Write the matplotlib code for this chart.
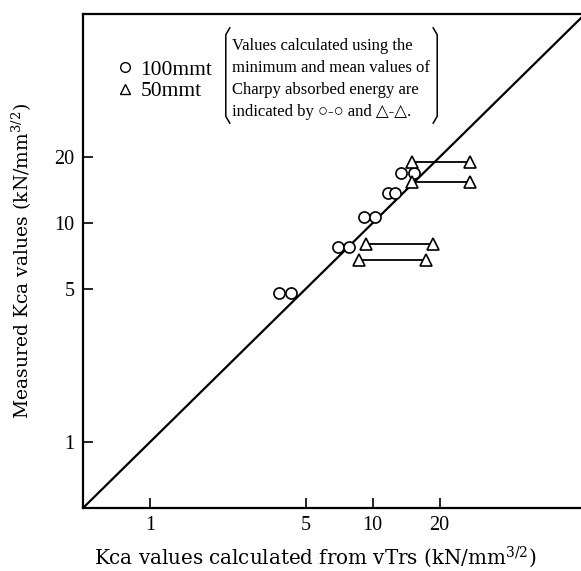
import numpy as np
import matplotlib
matplotlib.use("Agg")
import matplotlib.pyplot as plt
from matplotlib.lines import Line2D

plt.rcParams['mathtext.fontset'] = 'dejavuserif'

# 100mmt plates: Kca from minimum / mean Charpy energy, measured Kca
c100_xmin = [3.8, 7.0, 9.1, 11.7, 13.4]
c100_xmean = [4.3, 7.8, 10.2, 12.6, 15.3]
c100_y = [4.8, 7.8, 10.7, 13.7, 17.0]

# 50mmt plates
t50_xmin = [15.1, 15.0, 9.3, 8.65]
t50_xmean = [27.5, 27.3, 18.6, 17.3]
t50_y = [19.0, 15.4, 8.0, 6.8]

ticks = [1, 5, 10, 20]
diag = [0.5, 100]

fig = plt.figure(figsize=(5.81, 5.71), dpi=100)
ax = fig.add_axes([83/581, 63/571, 501/581, 494/571])
ax.set_xscale('log')
ax.set_yscale('log')
ax.set_xlim(0.5, 89)
ax.set_ylim(0.5, 90)

ax.plot(diag, diag, color='black', lw=1.6, zorder=2)

ms = 8
for x0, x1, y in zip(c100_xmin, c100_xmean, c100_y):
    ax.plot([x0, x1], [y, y], 'o', ls='none', ms=ms, mfc='white',
            mec='black', mew=1.2, zorder=3)
for x0, x1, y in zip(t50_xmin, t50_xmean, t50_y):
    ax.plot([x0, x1], [y, y], '-^', color='black', lw=1.3, ms=ms,
            mfc='white', mec='black', mew=1.2, zorder=3)

ax.set_xticks(ticks)
ax.set_xticklabels([str(t) for t in ticks])
ax.set_yticks(ticks)
ax.set_yticklabels([str(t) for t in ticks])
ax.minorticks_off()
ax.tick_params(direction='in', length=7, width=1.2, pad=6)
for lab in ax.get_xticklabels() + ax.get_yticklabels():
    lab.set_family('Liberation Serif')
    lab.set_fontsize(14.5)
for s in ax.spines.values():
    s.set_linewidth(1.6)

ax.set_xlabel(r'Kca values calculated from vTrs (kN/mm$^{3/2}$)',
              family='DejaVu Serif', fontsize=14.3)
ax.set_ylabel(r'Measured Kca values (kN/mm$^{3/2}$)',
              family='DejaVu Serif', fontsize=13.5)
ax.xaxis.set_label_coords(0.463, -0.074)
ax.yaxis.set_label_coords(-0.098, 0.5)

handles = [Line2D([], [], marker='o', ls='none', ms=7, mfc='white',
                  mec='black', mew=1.0),
           Line2D([], [], marker='^', ls='none', ms=7, mfc='white',
                  mec='black', mew=1.0)]
ax.legend(handles, ['100mmt', '50mmt'], loc='upper left',
          bbox_to_anchor=(0.046, 0.929), frameon=False, handlelength=0.8,
          handletextpad=0.3, labelspacing=0.05, borderpad=0,
          prop={'family': 'Liberation Serif', 'size': 15.5})

note = ('Values calculated using the\n'
        'minimum and mean values of\n'
        'Charpy absorbed energy are\n'
        'indicated by ○-○ and △-△.')
ax.text(0.496, 0.868, note, transform=ax.transAxes, ha='center', va='center',
        multialignment='left', fontsize=12, linespacing=1.5,
        family=['Liberation Serif', 'DejaVu Sans'])

# brackets round the note
bt, bb, r = 0.968, 0.783, 0.008
ax.plot([0.285 + r, 0.285, 0.285, 0.285 + r], [bt + 0.004, bt - 0.01, bb + 0.01, bb - 0.004],
        color='black', lw=1.1, transform=ax.transAxes, clip_on=False)
ax.plot([0.707 - r, 0.707, 0.707, 0.707 - r], [bt + 0.004, bt - 0.01, bb + 0.01, bb - 0.004],
        color='black', lw=1.1, transform=ax.transAxes, clip_on=False)

fig.savefig('out.png', dpi=100)
